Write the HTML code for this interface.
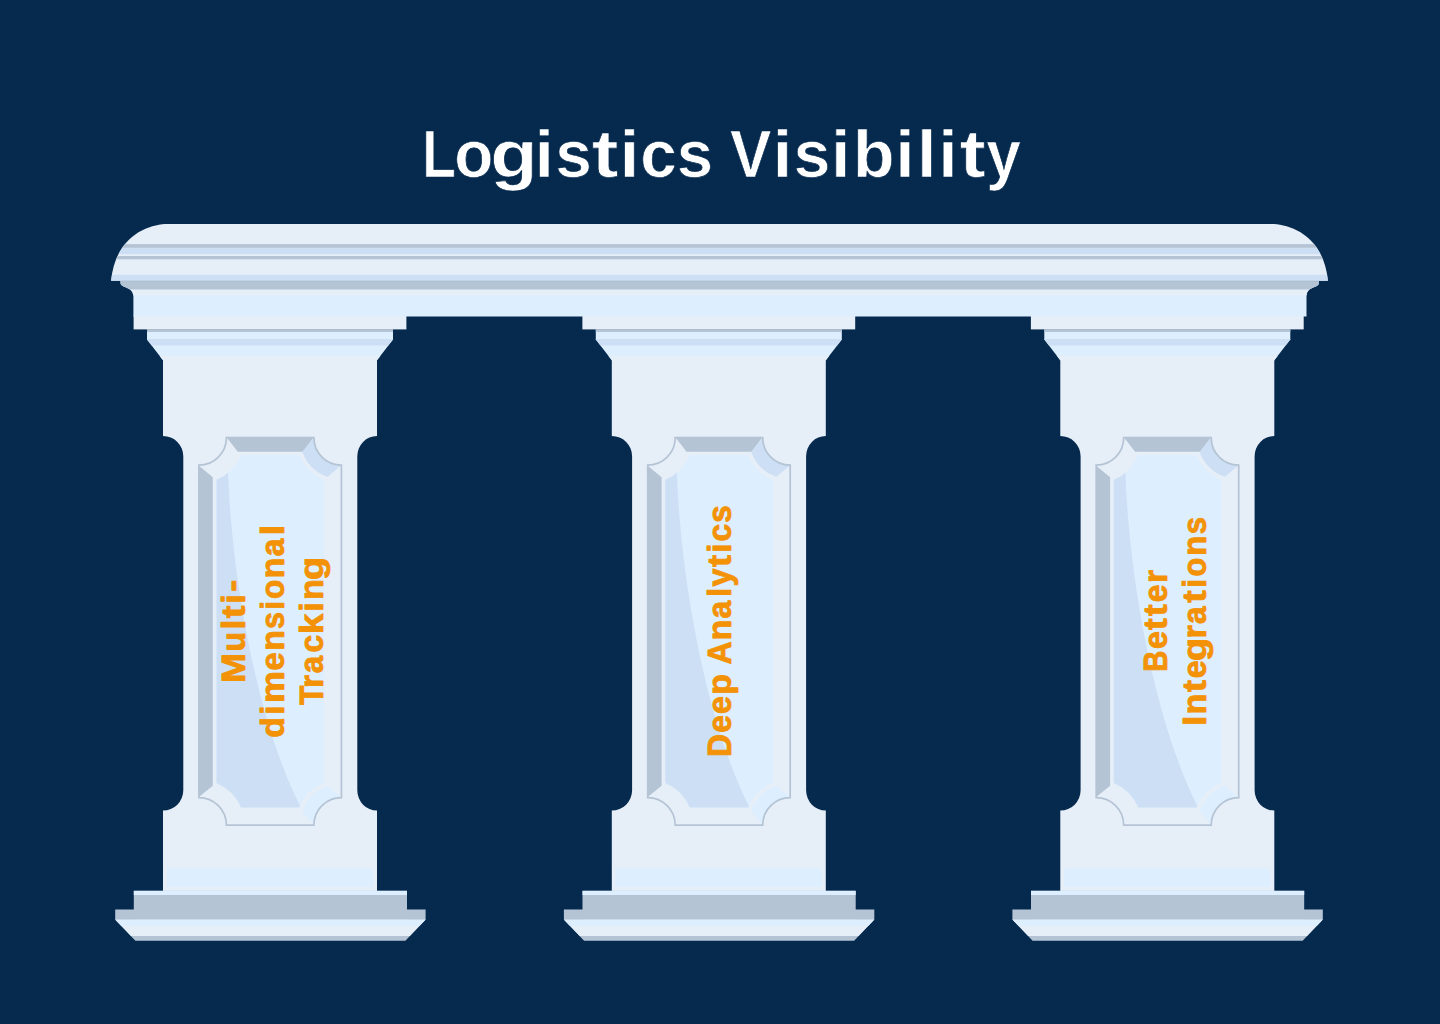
<!DOCTYPE html>
<html lang="en">
<head>
<meta charset="utf-8">
<title>Logistics Visibility</title>
<style>
html,body{margin:0;padding:0;background:#062a4e;}
body{width:1440px;height:1024px;overflow:hidden;font-family:"Liberation Sans",Arial,sans-serif;}
svg{display:block;}
</style>
</head>
<body>
<svg width="1440" height="1024" viewBox="0 0 1440 1024">
<rect x="0" y="0" width="1440" height="1024" fill="#062a4e"/>
<defs>
<clipPath id="beamclip"><path d="M111.1 280.8 C115.5 234.3 150.4 224 167.6 224 L1271.4 224 C1288.6 224 1323.5 234.3 1327.9 280.8 Z"/></clipPath>
<clipPath id="underclip"><path d="M120.5 280.8 L1319 280.8 L1319 283.2 C1318.7 286.2 1313 287.2 1309.5 289.6 C1307 291.4 1306.7 293.5 1306.5 297 L1306.5 316.5 L133.4 316.5 L133.4 297 C133.2 293.5 132.5 291.4 130 289.6 C126.5 287.2 120.8 286.2 120.5 283.2 Z"/></clipPath>
</defs>
<rect x="133.6" y="315.5" width="272.8" height="13.9" fill="#e6eef8"/>
<polygon points="147,329.4 393,329.4 393,339.5 377,360.2 163,360.2 147,339.5" fill="#ddeeff"/>
<rect x="147" y="329.4" width="246" height="2.6" fill="#b5c4d5"/>
<polygon points="147,339 393,339 393,339.5 388.29,345.6 151.71,345.6 147,339.5" fill="#cddff4"/>
<polygon points="159.68,355.9 380.32,355.9 377,360.2 163,360.2" fill="#e6eef8"/>
<path d="M163 360 L377 360 L377 436 A19.7 20.3 0 0 0 357.3 456.3 L357.3 790.3 A19.7 20.3 0 0 0 377 810.6 L377 891 L163 891 L163 810.6 A20.3 20.3 0 0 0 183.3 790.3 L183.3 456.3 A20.3 20.3 0 0 0 163 436 Z" fill="#e6eef8"/>
<rect x="166.9" y="868.6" width="206.2" height="18.3" fill="#ddeeff"/>
<rect x="133.8" y="890.8" width="273.2" height="28.6" fill="#b5c4d5"/>
<rect x="133.8" y="890.8" width="273.2" height="4.2" fill="#ddeeff"/>
<rect x="115.2" y="909.5" width="310.4" height="9.9" fill="#b5c4d5"/>
<polygon points="115.2,919.4 425.6,919.4 405.4,940.8 135.4,940.8" fill="#b5c4d5"/>
<polygon points="115.2,919.4 425.6,919.4 409.84,936.1 130.96,936.1" fill="#e6eef8"/>
<polygon points="115.2,919.4 425.6,919.4 419.46,925.9 121.34,925.9" fill="#ddeeff"/>
<polygon points="226.9,437.7 313.4,437.7 302.8,451.7 237.8,451.7" fill="#b5c4d5"/>
<polygon points="198.9,465.7 212.8,477.2 212.8,785.8 198.9,797.1" fill="#b5c4d5"/>
<path d="M313.9 437.7 A27.5 27.5 0 0 0 341.4 465.2 L327.47 476.79 A41.5 41.5 0 0 1 302.31 451.63 Z" fill="#cddff4"/>
<path d="M313.9 825.1 A27.5 27.5 0 0 1 341.4 797.6 L327.47 786.01 A41.5 41.5 0 0 0 302.31 811.17 Z" fill="#ddeeff"/>
<clipPath id="in270"><path d="M241.07 455.3 L299.23 455.3 A45.7 45.7 0 0 0 324 479.96 L324 782.84 A45.7 45.7 0 0 0 299.23 807.6 L241.07 807.6 A45.7 45.7 0 0 0 216.5 782.93 L216.5 479.87 A45.7 45.7 0 0 0 241.07 455.3 Z"/></clipPath>
<path d="M241.07 455.3 L299.23 455.3 A45.7 45.7 0 0 0 324 479.96 L324 782.84 A45.7 45.7 0 0 0 299.23 807.6 L241.07 807.6 A45.7 45.7 0 0 0 216.5 782.93 L216.5 479.87 A45.7 45.7 0 0 0 241.07 455.3 Z" fill="#ddeeff"/>
<path d="M210 450 L227.5 450 L227.5 455 C229.9 580.3 259.35 727.2 301.1 808 L301.1 815 L210 815 Z" fill="#cddff4" clip-path="url(#in270)"/>
<path d="M226.4 437.7 L313.9 437.7 A27.5 27.5 0 0 0 341.4 465.2 L341.4 797.6 A27.5 27.5 0 0 0 313.9 825.1 L226.4 825.1 A27.5 27.5 0 0 0 198.9 797.6 L198.9 465.2 A27.5 27.5 0 0 0 226.4 437.7 Z" fill="none" stroke="#b5c4d5" stroke-width="1.7"/>
<rect x="582.4" y="315.5" width="272.8" height="13.9" fill="#e6eef8"/>
<polygon points="595.8,329.4 841.8,329.4 841.8,339.5 825.8,360.2 611.8,360.2 595.8,339.5" fill="#ddeeff"/>
<rect x="595.8" y="329.4" width="246" height="2.6" fill="#b5c4d5"/>
<polygon points="595.8,339 841.8,339 841.8,339.5 837.09,345.6 600.51,345.6 595.8,339.5" fill="#cddff4"/>
<polygon points="608.48,355.9 829.12,355.9 825.8,360.2 611.8,360.2" fill="#e6eef8"/>
<path d="M611.8 360 L825.8 360 L825.8 436 A19.7 20.3 0 0 0 806.1 456.3 L806.1 790.3 A19.7 20.3 0 0 0 825.8 810.6 L825.8 891 L611.8 891 L611.8 810.6 A20.3 20.3 0 0 0 632.1 790.3 L632.1 456.3 A20.3 20.3 0 0 0 611.8 436 Z" fill="#e6eef8"/>
<rect x="615.7" y="868.6" width="206.2" height="18.3" fill="#ddeeff"/>
<rect x="582.5" y="890.8" width="273.2" height="28.6" fill="#b5c4d5"/>
<rect x="582.5" y="890.8" width="273.2" height="4.2" fill="#ddeeff"/>
<rect x="563.9" y="909.5" width="310.4" height="9.9" fill="#b5c4d5"/>
<polygon points="563.9,919.4 874.3,919.4 854.1,940.8 584.1,940.8" fill="#b5c4d5"/>
<polygon points="563.9,919.4 874.3,919.4 858.54,936.1 579.66,936.1" fill="#e6eef8"/>
<polygon points="563.9,919.4 874.3,919.4 868.16,925.9 570.04,925.9" fill="#ddeeff"/>
<polygon points="675.7,437.7 762.2,437.7 751.6,451.7 686.6,451.7" fill="#b5c4d5"/>
<polygon points="647.7,465.7 661.6,477.2 661.6,785.8 647.7,797.1" fill="#b5c4d5"/>
<path d="M762.7 437.7 A27.5 27.5 0 0 0 790.2 465.2 L776.27 476.79 A41.5 41.5 0 0 1 751.11 451.63 Z" fill="#cddff4"/>
<path d="M762.7 825.1 A27.5 27.5 0 0 1 790.2 797.6 L776.27 786.01 A41.5 41.5 0 0 0 751.11 811.17 Z" fill="#ddeeff"/>
<clipPath id="in718"><path d="M689.87 455.3 L748.03 455.3 A45.7 45.7 0 0 0 772.8 479.96 L772.8 782.84 A45.7 45.7 0 0 0 748.03 807.6 L689.87 807.6 A45.7 45.7 0 0 0 665.3 782.93 L665.3 479.87 A45.7 45.7 0 0 0 689.87 455.3 Z"/></clipPath>
<path d="M689.87 455.3 L748.03 455.3 A45.7 45.7 0 0 0 772.8 479.96 L772.8 782.84 A45.7 45.7 0 0 0 748.03 807.6 L689.87 807.6 A45.7 45.7 0 0 0 665.3 782.93 L665.3 479.87 A45.7 45.7 0 0 0 689.87 455.3 Z" fill="#ddeeff"/>
<path d="M658.8 450 L676.3 450 L676.3 455 C678.7 580.3 708.15 727.2 749.9 808 L749.9 815 L658.8 815 Z" fill="#cddff4" clip-path="url(#in718)"/>
<path d="M675.2 437.7 L762.7 437.7 A27.5 27.5 0 0 0 790.2 465.2 L790.2 797.6 A27.5 27.5 0 0 0 762.7 825.1 L675.2 825.1 A27.5 27.5 0 0 0 647.7 797.6 L647.7 465.2 A27.5 27.5 0 0 0 675.2 437.7 Z" fill="none" stroke="#b5c4d5" stroke-width="1.7"/>
<rect x="1030.9" y="315.5" width="272.8" height="13.9" fill="#e6eef8"/>
<polygon points="1044.3,329.4 1290.3,329.4 1290.3,339.5 1274.3,360.2 1060.3,360.2 1044.3,339.5" fill="#ddeeff"/>
<rect x="1044.3" y="329.4" width="246" height="2.6" fill="#b5c4d5"/>
<polygon points="1044.3,339 1290.3,339 1290.3,339.5 1285.59,345.6 1049.01,345.6 1044.3,339.5" fill="#cddff4"/>
<polygon points="1056.98,355.9 1277.62,355.9 1274.3,360.2 1060.3,360.2" fill="#e6eef8"/>
<path d="M1060.3 360 L1274.3 360 L1274.3 436 A19.7 20.3 0 0 0 1254.6 456.3 L1254.6 790.3 A19.7 20.3 0 0 0 1274.3 810.6 L1274.3 891 L1060.3 891 L1060.3 810.6 A20.3 20.3 0 0 0 1080.6 790.3 L1080.6 456.3 A20.3 20.3 0 0 0 1060.3 436 Z" fill="#e6eef8"/>
<rect x="1064.2" y="868.6" width="206.2" height="18.3" fill="#ddeeff"/>
<rect x="1031" y="890.8" width="273.2" height="28.6" fill="#b5c4d5"/>
<rect x="1031" y="890.8" width="273.2" height="4.2" fill="#ddeeff"/>
<rect x="1012.4" y="909.5" width="310.4" height="9.9" fill="#b5c4d5"/>
<polygon points="1012.4,919.4 1322.8,919.4 1302.6,940.8 1032.6,940.8" fill="#b5c4d5"/>
<polygon points="1012.4,919.4 1322.8,919.4 1307.04,936.1 1028.16,936.1" fill="#e6eef8"/>
<polygon points="1012.4,919.4 1322.8,919.4 1316.66,925.9 1018.54,925.9" fill="#ddeeff"/>
<polygon points="1124.2,437.7 1210.7,437.7 1200.1,451.7 1135.1,451.7" fill="#b5c4d5"/>
<polygon points="1096.2,465.7 1110.1,477.2 1110.1,785.8 1096.2,797.1" fill="#b5c4d5"/>
<path d="M1211.2 437.7 A27.5 27.5 0 0 0 1238.7 465.2 L1224.77 476.79 A41.5 41.5 0 0 1 1199.61 451.63 Z" fill="#cddff4"/>
<path d="M1211.2 825.1 A27.5 27.5 0 0 1 1238.7 797.6 L1224.77 786.01 A41.5 41.5 0 0 0 1199.61 811.17 Z" fill="#ddeeff"/>
<clipPath id="in1167"><path d="M1138.37 455.3 L1196.53 455.3 A45.7 45.7 0 0 0 1221.3 479.96 L1221.3 782.84 A45.7 45.7 0 0 0 1196.53 807.6 L1138.37 807.6 A45.7 45.7 0 0 0 1113.8 782.93 L1113.8 479.87 A45.7 45.7 0 0 0 1138.37 455.3 Z"/></clipPath>
<path d="M1138.37 455.3 L1196.53 455.3 A45.7 45.7 0 0 0 1221.3 479.96 L1221.3 782.84 A45.7 45.7 0 0 0 1196.53 807.6 L1138.37 807.6 A45.7 45.7 0 0 0 1113.8 782.93 L1113.8 479.87 A45.7 45.7 0 0 0 1138.37 455.3 Z" fill="#ddeeff"/>
<path d="M1107.3 450 L1124.8 450 L1124.8 455 C1127.2 580.3 1156.65 727.2 1198.4 808 L1198.4 815 L1107.3 815 Z" fill="#cddff4" clip-path="url(#in1167)"/>
<path d="M1123.7 437.7 L1211.2 437.7 A27.5 27.5 0 0 0 1238.7 465.2 L1238.7 797.6 A27.5 27.5 0 0 0 1211.2 825.1 L1123.7 825.1 A27.5 27.5 0 0 0 1096.2 797.6 L1096.2 465.2 A27.5 27.5 0 0 0 1123.7 437.7 Z" fill="none" stroke="#b5c4d5" stroke-width="1.7"/>
<g clip-path="url(#beamclip)">
<rect x="100" y="220" width="1240" height="65" fill="#e6eef8"/>
<rect x="100" y="244.1" width="1240" height="3.8" fill="#b5c4d5"/>
<rect x="100" y="247.9" width="1240" height="6.3" fill="#cddff4"/>
<rect x="100" y="256" width="1240" height="3.3" fill="#b5c4d5"/>
<rect x="100" y="274.8" width="1240" height="6.2" fill="#cddff4"/>
</g>
<g clip-path="url(#underclip)">
<rect x="100" y="280" width="1240" height="40" fill="#ddeeff"/>
<rect x="100" y="280" width="1240" height="9.7" fill="#b5c4d5"/>
<rect x="100" y="289.7" width="1240" height="5.4" fill="#e6eef8"/>
<rect x="100" y="280.6" width="1240" height="0.9" fill="#a9bbd0"/>
</g>
<g font-family="'Liberation Sans', Arial, sans-serif" font-weight="700">
<text aria-label="Logistics Visibility" y="177.1" font-size="67" fill="#ffffff" stroke="#062a4e" stroke-width="0.7"><tspan x="422.37" textLength="33.57" lengthAdjust="spacingAndGlyphs">L</tspan><tspan x="454.35" textLength="39.1" lengthAdjust="spacingAndGlyphs">o</tspan><tspan x="490.37" textLength="47.37" lengthAdjust="spacingAndGlyphs">g</tspan><tspan x="534.56" textLength="19.44" lengthAdjust="spacingAndGlyphs">i</tspan><tspan x="555.34" textLength="36.61" lengthAdjust="spacingAndGlyphs">s</tspan><tspan x="591.77" textLength="26.76" lengthAdjust="spacingAndGlyphs">t</tspan><tspan x="619.86" textLength="19.44" lengthAdjust="spacingAndGlyphs">i</tspan><tspan x="640.19" textLength="36.48" lengthAdjust="spacingAndGlyphs">c</tspan><tspan x="676.76" textLength="36.27" lengthAdjust="spacingAndGlyphs">s</tspan> <tspan x="730.03" textLength="41.35" lengthAdjust="spacingAndGlyphs">V</tspan><tspan x="772.76" textLength="19.44" lengthAdjust="spacingAndGlyphs">i</tspan><tspan x="793.42" textLength="36.85" lengthAdjust="spacingAndGlyphs">s</tspan><tspan x="830.96" textLength="19.44" lengthAdjust="spacingAndGlyphs">i</tspan><tspan x="852.96" textLength="41.58" lengthAdjust="spacingAndGlyphs">b</tspan><tspan x="895.36" textLength="19.44" lengthAdjust="spacingAndGlyphs">i</tspan><tspan x="916.96" textLength="19.44" lengthAdjust="spacingAndGlyphs">l</tspan><tspan x="938.26" textLength="19.44" lengthAdjust="spacingAndGlyphs">i</tspan><tspan x="959.49" textLength="26.22" lengthAdjust="spacingAndGlyphs">t</tspan><tspan x="986.17" textLength="34.52" lengthAdjust="spacingAndGlyphs">y</tspan></text>
<text aria-label="Multi-" transform="translate(245.1 0) rotate(-90)" y="0" font-size="33.6" fill="#f39207" stroke="#f39207" stroke-width="0.9" stroke-linejoin="round"><tspan x="-683.06" y="0" textLength="30.02" lengthAdjust="spacingAndGlyphs">M</tspan><tspan x="-651.44" y="0" textLength="19.61" lengthAdjust="spacingAndGlyphs">u</tspan><tspan x="-629.59" y="0" textLength="9.72" lengthAdjust="spacingAndGlyphs">l</tspan><tspan x="-618.21" y="0" textLength="12.63" lengthAdjust="spacingAndGlyphs">t</tspan><tspan x="-603.44" y="0" textLength="9.11" lengthAdjust="spacingAndGlyphs">i</tspan><tspan x="-591.85" y="-2.3" textLength="11.93" lengthAdjust="spacingAndGlyphs">-</tspan></text>
<text aria-label="dimensional" transform="translate(284.1 0) rotate(-90)" y="0" font-size="33.6" fill="#f39207" stroke="#f39207" stroke-width="0.9" stroke-linejoin="round"><tspan x="-737.74" textLength="20.73" lengthAdjust="spacingAndGlyphs">d</tspan><tspan x="-714.69" textLength="9.31" lengthAdjust="spacingAndGlyphs">i</tspan><tspan x="-702.91" textLength="31.89" lengthAdjust="spacingAndGlyphs">m</tspan><tspan x="-670.43" textLength="18.2" lengthAdjust="spacingAndGlyphs">e</tspan><tspan x="-650.77" textLength="20.62" lengthAdjust="spacingAndGlyphs">n</tspan><tspan x="-628.93" textLength="17.03" lengthAdjust="spacingAndGlyphs">s</tspan><tspan x="-609.74" textLength="8.71" lengthAdjust="spacingAndGlyphs">i</tspan><tspan x="-598.98" textLength="19.26" lengthAdjust="spacingAndGlyphs">o</tspan><tspan x="-578.52" textLength="21" lengthAdjust="spacingAndGlyphs">n</tspan><tspan x="-556.28" textLength="17.63" lengthAdjust="spacingAndGlyphs">a</tspan><tspan x="-535.25" textLength="10.33" lengthAdjust="spacingAndGlyphs">l</tspan></text>
<text aria-label="Tracking" transform="translate(323 0) rotate(-90)" y="0" font-size="33.6" fill="#f39207" stroke="#f39207" stroke-width="0.9" stroke-linejoin="round"><tspan x="-704.91" textLength="19.4" lengthAdjust="spacingAndGlyphs">T</tspan><tspan x="-687.98" textLength="13.14" lengthAdjust="spacingAndGlyphs">r</tspan><tspan x="-673.37" textLength="17.42" lengthAdjust="spacingAndGlyphs">a</tspan><tspan x="-652.59" textLength="17.67" lengthAdjust="spacingAndGlyphs">c</tspan><tspan x="-634" textLength="20.31" lengthAdjust="spacingAndGlyphs">k</tspan><tspan x="-611.44" textLength="9.11" lengthAdjust="spacingAndGlyphs">i</tspan><tspan x="-600.02" textLength="21" lengthAdjust="spacingAndGlyphs">n</tspan><tspan x="-579.9" textLength="23.08" lengthAdjust="spacingAndGlyphs">g</tspan></text>
<text aria-label="Deep Analytics" transform="translate(730.9 0) rotate(-90)" y="0" font-size="33.6" fill="#f39207" stroke="#f39207" stroke-width="0.9" stroke-linejoin="round"><tspan x="-756.88" textLength="22.96" lengthAdjust="spacingAndGlyphs">D</tspan><tspan x="-732.69" textLength="17.62" lengthAdjust="spacingAndGlyphs">e</tspan><tspan x="-714" textLength="17.85" lengthAdjust="spacingAndGlyphs">e</tspan><tspan x="-694.77" textLength="20.61" lengthAdjust="spacingAndGlyphs">p</tspan> <tspan x="-664.45" textLength="23.14" lengthAdjust="spacingAndGlyphs">A</tspan><tspan x="-640.4" textLength="20.87" lengthAdjust="spacingAndGlyphs">n</tspan><tspan x="-618.48" textLength="17.73" lengthAdjust="spacingAndGlyphs">a</tspan><tspan x="-596.69" textLength="8.91" lengthAdjust="spacingAndGlyphs">l</tspan><tspan x="-586.4" textLength="18.03" lengthAdjust="spacingAndGlyphs">y</tspan><tspan x="-566.99" textLength="12.09" lengthAdjust="spacingAndGlyphs">t</tspan><tspan x="-552.69" textLength="9.31" lengthAdjust="spacingAndGlyphs">i</tspan><tspan x="-541.39" textLength="17.67" lengthAdjust="spacingAndGlyphs">c</tspan><tspan x="-522.66" textLength="17.5" lengthAdjust="spacingAndGlyphs">s</tspan></text>
<text aria-label="Better" transform="translate(1166.9 0) rotate(-90)" y="0" font-size="33.6" fill="#f39207" stroke="#f39207" stroke-width="0.9" stroke-linejoin="round"><tspan x="-671.81" textLength="21.2" lengthAdjust="spacingAndGlyphs">B</tspan><tspan x="-649" textLength="17.85" lengthAdjust="spacingAndGlyphs">e</tspan><tspan x="-629.98" textLength="11.76" lengthAdjust="spacingAndGlyphs">t</tspan><tspan x="-615.98" textLength="11.76" lengthAdjust="spacingAndGlyphs">t</tspan><tspan x="-602.3" textLength="17.74" lengthAdjust="spacingAndGlyphs">e</tspan><tspan x="-582.88" textLength="13.14" lengthAdjust="spacingAndGlyphs">r</tspan></text>
<text aria-label="Integrations" transform="translate(1206 0) rotate(-90)" y="0" font-size="33.6" fill="#f39207" stroke="#f39207" stroke-width="0.9" stroke-linejoin="round"><tspan x="-725.72" textLength="9.84" lengthAdjust="spacingAndGlyphs">I</tspan><tspan x="-714.4" textLength="20.87" lengthAdjust="spacingAndGlyphs">n</tspan><tspan x="-691.99" textLength="11.98" lengthAdjust="spacingAndGlyphs">t</tspan><tspan x="-678.21" textLength="17.97" lengthAdjust="spacingAndGlyphs">e</tspan><tspan x="-661" textLength="23.08" lengthAdjust="spacingAndGlyphs">g</tspan><tspan x="-638.6" textLength="13.26" lengthAdjust="spacingAndGlyphs">r</tspan><tspan x="-623.97" textLength="17.52" lengthAdjust="spacingAndGlyphs">a</tspan><tspan x="-602.7" textLength="12.41" lengthAdjust="spacingAndGlyphs">t</tspan><tspan x="-587.89" textLength="9.31" lengthAdjust="spacingAndGlyphs">i</tspan><tspan x="-576.55" textLength="18.69" lengthAdjust="spacingAndGlyphs">o</tspan><tspan x="-555.72" textLength="20.11" lengthAdjust="spacingAndGlyphs">n</tspan><tspan x="-534.35" textLength="17.38" lengthAdjust="spacingAndGlyphs">s</tspan></text>
</g>
</svg>
</body>
</html>
